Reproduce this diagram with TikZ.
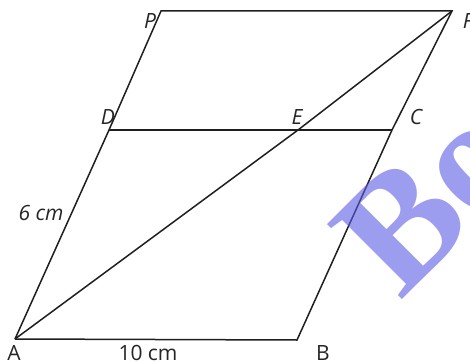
\documentclass[tikz,border=0pt]{standalone}
\usepackage{fontspec}
\setmainfont{Open Sans}
\newfontfamily\wmfont{Liberation Serif}
\begin{document}
\begin{tikzpicture}[x=1pt,y=-1pt,
  edge/.style={line width=1.5pt,draw=black!88},
  lbl/.style={font=\fontsize{21}{21}\selectfont\itshape,inner sep=0pt,text=black!85},
  lblu/.style={font=\fontsize{21}{21}\selectfont,inner sep=0pt,text=black!85}]
\path[use as bounding box] (0,0) rectangle (470,363);
\clip (0,0) rectangle (470,363);
\fill[white] (0,0) rectangle (470,363);
\coordinate (A) at (15,339);
\coordinate (B) at (297,340);
\coordinate (C) at (392,130);
\coordinate (D) at (109,130);
\coordinate (E) at (298,130);
\coordinate (P) at (161,11);
\coordinate (F) at (452,11);
\draw[edge] (A) -- (B) -- (C) -- (F) -- (P) -- (D) -- (A);
\draw[edge] (D) -- (C);
\draw[edge] (A) -- (E) -- (F);
\node[lbl] (lP) at (150,21) {P};
\node[lbl] (lD) at (108,117) {D};
\node[lbl] (lE) at (297,117) {E};
\node[lbl] (lC) at (416,117) {C};
\node[lbl] (lF) at (468,21) {F};
\node[lblu] (lA) at (14,353) {A};
\node[lblu] (lB) at (323,353) {B};
\node[lblu] (l10) at (148,353) {10 cm};
\node[lbl] (l6) at (41,213) {6 cm};
\node[anchor=base west,rotate=45,inner sep=0pt,
  font=\wmfont\bfseries\fontsize{162}{162}\selectfont,
  text={rgb,255:red,92;green,92;blue,230},text opacity=0.6] (wm) at (400,302) {Bo};
\end{tikzpicture}
\end{document}
